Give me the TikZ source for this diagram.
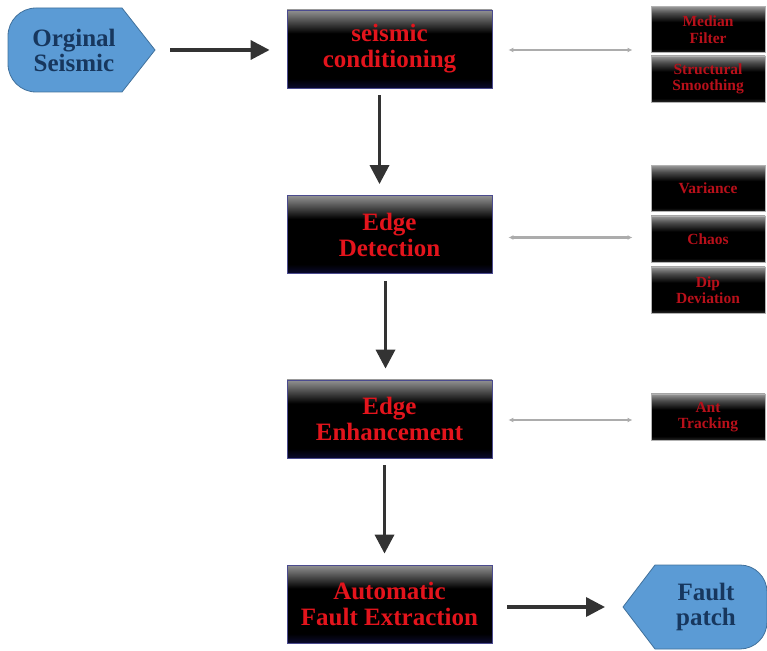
\documentclass[tikz,border=0pt]{standalone}
\usepackage{fontspec}
\setmainfont{Liberation Serif}
\usetikzlibrary{arrows.meta,positioning,fit,calc}
\definecolor{boxred}{HTML}{E3141C}
\definecolor{smallred}{HTML}{B8101A}
\definecolor{shapeblue}{HTML}{5B9BD5}
\definecolor{shapeedge}{HTML}{41719C}
\definecolor{shapetext}{HTML}{17375E}
\definecolor{boxedge}{HTML}{4B4B8F}
\definecolor{navyblk}{HTML}{0A0A2E}
\pgfdeclareverticalshading{mainshade}{100bp}{%
  color(0bp)=(navyblk); color(25bp)=(navyblk); color(31bp)=(black);
  color(60bp)=(black); color(69bp)=(gray!70!black); color(75bp)=(gray!85);
  color(100bp)=(gray!85)}
\pgfdeclareverticalshading{smallshade}{100bp}{%
  color(0bp)=(black); color(25bp)=(gray!30!black); color(29bp)=(black);
  color(58bp)=(black); color(68bp)=(gray!60!black); color(75bp)=(gray!80);
  color(100bp)=(gray!80)}
\tikzset{
  mainbox/.style={draw=boxedge, line width=0.8pt, shade, shading=mainshade,
    minimum width=205pt, minimum height=78pt, inner sep=0pt, align=center,
    text=boxred, font=\bfseries\fontsize{25}{26}\selectfont},
  toolbox/.style={draw=gray!60, line width=0.6pt, shade, shading=smallshade,
    minimum width=114pt, minimum height=46pt, inner sep=0pt, align=center,
    text=smallred, font=\bfseries\fontsize{15.5}{16.5}\selectfont},
  endtext/.style={inner sep=0pt, align=center, text=shapetext,
    font=\bfseries\fontsize{25}{25}\selectfont},
  endshape/.style={fill=shapeblue, draw=shapeedge, line width=0.8pt},
  flow/.style={draw=black!80, line width=3.5pt,
    -{Triangle[length=19pt,width=19pt]}},
  link/.style={draw=gray!65, line width=2.2pt,
    {Latex[length=5pt,width=5pt]}-{Latex[length=5pt,width=5pt]},
    shorten <=16pt, shorten >=18pt}
}
\begin{document}
\begin{tikzpicture}[x=1pt,y=1pt]
  \useasboundingbox (0,0) rectangle (767,650);

  % blue start / end shapes
  \filldraw[endshape] (155,600) -- (122,642) -- (36,642)
    arc[start angle=90,end angle=180,radius=28] -- (8,586)
    arc[start angle=180,end angle=270,radius=28] -- (122,558) -- cycle;
  \filldraw[endshape] (623,43) -- (655,85) -- (740,85)
    arc[start angle=90,end angle=0,radius=27] -- (767,28)
    arc[start angle=0,end angle=-90,radius=27] -- (655,1) -- cycle;
  \node[endtext] (orig) at (74,600) {Orginal\\Seismic};
  \node[endtext] (fault) at (706,43) {Fault\\patch};
  \coordinate (origtip) at (155,600);
  \coordinate (faulttip) at (623,43);

  % main steps
  \node[mainbox] (b1) at (389.5,601)   {seismic\\conditioning};
  \node[mainbox] (b2) at (389.5,415.5) {Edge\\Detection};
  \node[mainbox] (b3) at (389.5,231)   {Edge\\Enhancement};
  \node[mainbox] (b4) at (389.5,46)    {Automatic\\Fault Extraction};

  % attributes
  \node[toolbox] (med)   at (708,620.5) {Median\\Filter};
  \node[toolbox] (str)   at (708,571)   {Structural\\Smoothing};
  \node[toolbox] (var)   at (708,461.5) {Variance};
  \node[toolbox] (chaos) at (708,411)   {Chaos};
  \node[toolbox] (dip)   at (708,360)   {Dip\\Deviation};
  \node[toolbox] (ant)   at (708,233)   {Ant\\Tracking};

  \node[fit=(med)(str), inner sep=0pt] (grp1) {};
  \node[fit=(var)(dip), inner sep=0pt] (grp2) {};
  \node[fit=(ant), inner sep=0pt] (grp3) {};

  % arrows
  \draw[flow, shorten <=15pt, shorten >=17pt] (origtip) -- (origtip -| b1.west);
  \foreach \a/\b/\dx in {b1/b2/-10, b2/b3/-4, b3/b4/-5}{
    \draw[flow, shorten <=7pt, shorten >=11pt]
      ([xshift=\dx pt]\a.south) -- ([xshift=\dx pt]\b.north);
  }
  \draw[flow, shorten <=15pt, shorten >=18pt] (b4.east |- faulttip) -- (faulttip);

  \draw[link] ([yshift=-1pt]b1.east) -- ([yshift=-1pt]b1.east -| grp1.west);
  \draw[link] ([yshift=-3pt]b2.east) -- ([yshift=-3pt]b2.east -| grp2.west);
  \draw[link] ([yshift=-1pt]b3.east) -- ([yshift=-1pt]b3.east -| grp3.west);

\end{tikzpicture}
\end{document}
